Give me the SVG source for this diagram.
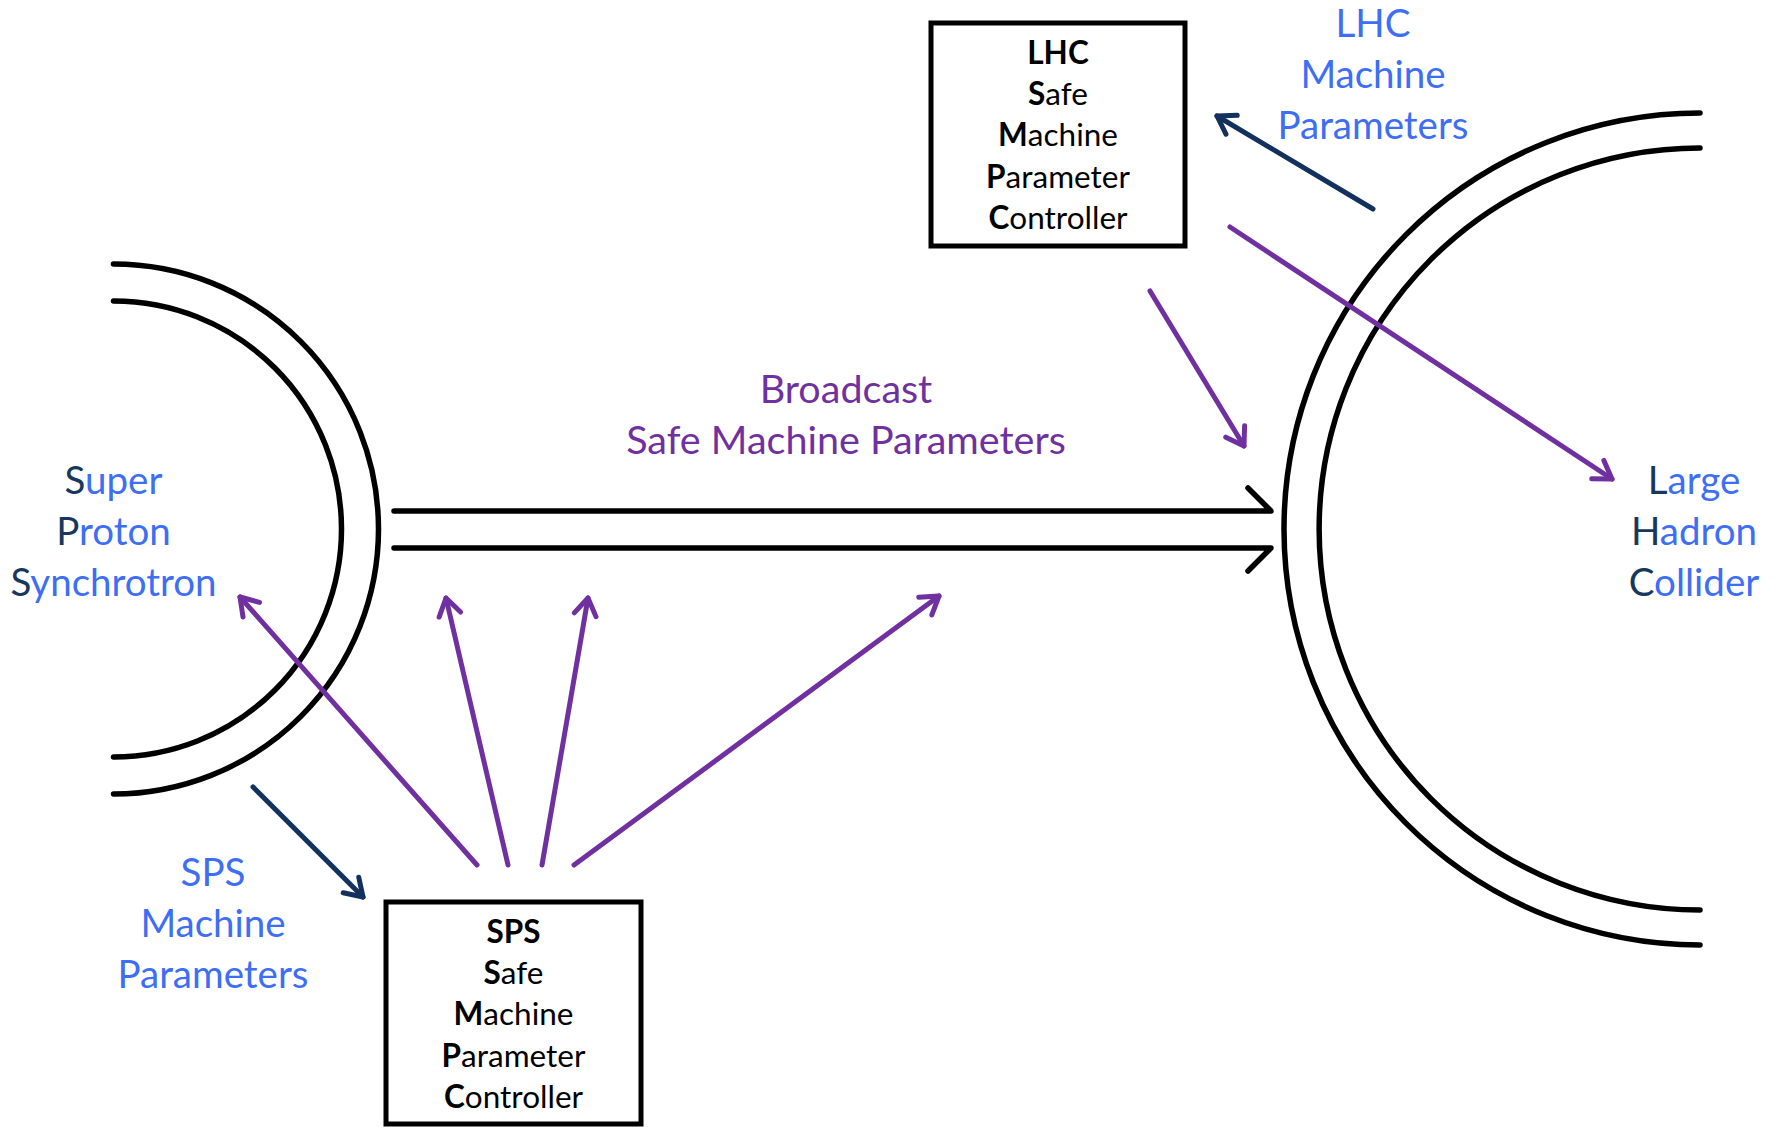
<svg xmlns="http://www.w3.org/2000/svg" width="1779" height="1127" viewBox="0 0 1779 1127">
  <style>
    .ring { fill: none; stroke: #000; stroke-width: 5.5; stroke-linecap: round; stroke-linejoin: round; }
    .box { fill: #fff; stroke: #000; stroke-width: 5; }
    .boxtxt { font-family: Lato, "Open Sans", "Liberation Sans", sans-serif; font-size: 31.5px; fill: #000; text-anchor: middle; }
    .lbl { font-family: Lato, "Open Sans", "Liberation Sans", sans-serif; font-size: 38.5px; fill: #3d6ef5; text-anchor: middle; }
    .dk { fill: #17375e; }
    .bc { font-family: Lato, "Open Sans", "Liberation Sans", sans-serif; font-size: 39.5px; fill: #7030a0; text-anchor: middle; }
    .pa { fill: none; stroke: #7030a0; stroke-width: 5; stroke-linecap: round; }
    .na { fill: none; stroke: #12315e; stroke-width: 5; stroke-linecap: round; }
  </style>
  <defs>
    <marker id="mp" markerUnits="userSpaceOnUse" markerWidth="40" markerHeight="40" viewBox="-30 -20 40 40" refX="0" refY="0" orient="auto">
      <path d="M-17,-11 L0,0 L-17,11" fill="none" stroke="#7030a0" stroke-width="5" stroke-linecap="round" stroke-linejoin="round"/>
    </marker>
    <marker id="mn" markerUnits="userSpaceOnUse" markerWidth="40" markerHeight="40" viewBox="-30 -20 40 40" refX="0" refY="0" orient="auto">
      <path d="M-17,-11 L0,0 L-17,11" fill="none" stroke="#12315e" stroke-width="5" stroke-linecap="round" stroke-linejoin="round"/>
    </marker>
  </defs>
  <rect width="1779" height="1127" fill="#fff"/>

  <g id="sps-ring">
    <path class="ring" d="M113.5,264 A265,265 0 0 1 113.5,794"/>
    <path class="ring" d="M113.5,301 A228,228 0 0 1 113.5,757"/>
    <text class="lbl" x="113.5" y="494"><tspan class="dk">S</tspan>uper</text>
    <text class="lbl" x="113.5" y="545"><tspan class="dk">P</tspan>roton</text>
    <text class="lbl" x="113.5" y="596"><tspan class="dk">S</tspan>ynchrotron</text>
  </g>

  <g id="lhc-ring">
    <path class="ring" d="M1700,113 A416,416 0 0 0 1700,945"/>
    <path class="ring" d="M1700,148 A381,381 0 0 0 1700,910"/>
    <text class="lbl" x="1694" y="494"><tspan class="dk">L</tspan>arge</text>
    <text class="lbl" x="1694" y="545"><tspan class="dk">H</tspan>adron</text>
    <text class="lbl" x="1694" y="596"><tspan class="dk">C</tspan>ollider</text>
  </g>

  <g id="lhc-smp">
    <rect class="box" x="931" y="23" width="254" height="223"/>
    <text class="boxtxt" x="1058" y="64" font-weight="bold">LHC</text>
    <text class="boxtxt" x="1058" y="105"><tspan font-weight="bold">S</tspan>afe</text>
    <text class="boxtxt" x="1058" y="146"><tspan font-weight="bold">M</tspan>achine</text>
    <text class="boxtxt" x="1058" y="188"><tspan font-weight="bold">P</tspan>arameter</text>
    <text class="boxtxt" x="1058" y="229"><tspan font-weight="bold">C</tspan>ontroller</text>
  </g>

  <g id="sps-smp">
    <rect class="box" x="386" y="902" width="255" height="222"/>
    <text class="boxtxt" x="513.5" y="943" font-weight="bold">SPS</text>
    <text class="boxtxt" x="513.5" y="984"><tspan font-weight="bold">S</tspan>afe</text>
    <text class="boxtxt" x="513.5" y="1025"><tspan font-weight="bold">M</tspan>achine</text>
    <text class="boxtxt" x="513.5" y="1067"><tspan font-weight="bold">P</tspan>arameter</text>
    <text class="boxtxt" x="513.5" y="1108"><tspan font-weight="bold">C</tspan>ontroller</text>
  </g>

  <g id="labels">
    <text class="lbl" x="1373" y="37">LHC</text>
    <text class="lbl" x="1373" y="88">Machine</text>
    <text class="lbl" x="1373" y="139">Parameters</text>
    <text class="lbl" x="213" y="886">SPS</text>
    <text class="lbl" x="213" y="937">Machine</text>
    <text class="lbl" x="213" y="988">Parameters</text>
    <text class="bc" x="846" y="403">Broadcast</text>
    <text class="bc" x="846" y="454">Safe Machine Parameters</text>
  </g>

  <g id="connectors">
    <path class="ring" d="M394,511 L1271,511 L1248,488"/>
    <path class="ring" d="M394,548 L1271,548 L1248,571"/>
    <path class="na" d="M1373,209 L1217,116" marker-end="url(#mn)"/>
    <path class="na" d="M253,787 L363,897" marker-end="url(#mn)"/>
    <path class="pa" d="M1230,227 L1612,479" marker-end="url(#mp)"/>
    <path class="pa" d="M1150,291 L1244,446" marker-end="url(#mp)"/>
    <path class="pa" d="M477,865 L240,597" marker-end="url(#mp)"/>
    <path class="pa" d="M508,865 L446,598" marker-end="url(#mp)"/>
    <path class="pa" d="M542,865 L588,598" marker-end="url(#mp)"/>
    <path class="pa" d="M574,865 L939,596" marker-end="url(#mp)"/>
  </g>
</svg>
